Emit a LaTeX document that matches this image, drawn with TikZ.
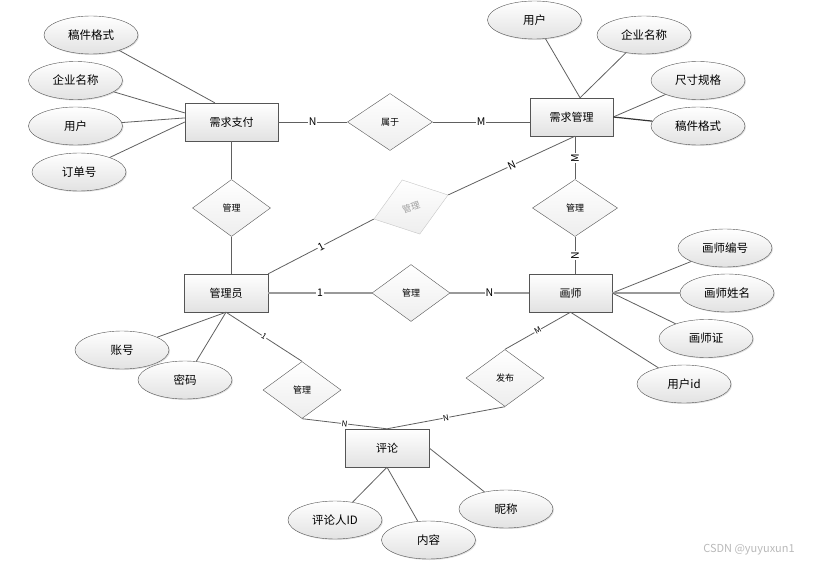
\documentclass[tikz,border=0pt]{standalone}
\usepackage{fontspec}
\setmainfont{Noto Sans CJK SC}
\usepackage{tikz}
\usetikzlibrary{positioning,shapes.geometric,shadows}
\definecolor{edge}{HTML}{555555}
\definecolor{shade}{HTML}{E2E2E2}
\definecolor{wire}{HTML}{606060}

\begin{document}
\begin{tikzpicture}[x=1pt,y=-1pt,
  ent/.style={draw=edge,top color=white,bottom color=shade,minimum width=84pt,minimum height=38pt,inner sep=0pt,font=\fontsize{11}{13}\selectfont,drop shadow={shadow xshift=1.2pt,shadow yshift=-1.2pt,fill=gray!60,opacity=0.6}},
  attr/.style={ellipse,draw=edge,top color=white,bottom color=shade,minimum width=94pt,minimum height=38pt,inner sep=0pt,font=\fontsize{11.5}{13}\selectfont,drop shadow={shadow xshift=1pt,shadow yshift=-1pt,fill=gray!50,opacity=0.5}},
  rel/.style={diamond,draw=edge,top color=white,bottom color=shade!60,minimum width=78pt,minimum height=57pt,inner sep=0pt,font=\fontsize{9}{10}\selectfont},
  lnk/.style={draw=wire,line width=0.8pt},
  lbl/.style={fill=white,inner sep=0.8pt,font=\fontsize{10.5}{11}\selectfont},
  tiny/.style={fill=white,inner sep=0.5pt,font=\fontsize{8}{9}\selectfont,sloped}]
  \useasboundingbox (0,0) rectangle (819,567);

  % entities
  \node[ent,minimum width=93pt] (pay) at (231.5,122) {需求支付};
  \node[ent,minimum width=83pt] (dem) at (571.5,117) {需求管理};
  \node[ent] (adm) at (226,293) {管理员};
  \node[ent,minimum width=83pt] (art) at (570.5,293) {画师};
  \node[ent] (cmt) at (387,448) {评论};

  % relations
  \node[rel,minimum width=85pt] (shu) at (390,122) {属于};
  \node[rel] (mg1) at (231.5,208) {管理};
  \node[rel,draw=gray!45,text=gray!75,rotate=18] (mg0) at (411,207) {管理};
  \node[rel,minimum width=85pt] (mg2) at (575,208) {管理};
  \node[rel] (mg4) at (411,293) {管理};
  \node[rel] (mg3) at (302,390) {管理};
  \node[rel] (fb) at (505,378) {发布};

  % attributes
  \node[attr] (a1) at (91,35) {稿件格式};
  \node[attr] (a2) at (75.5,80.5) {企业名称};
  \node[attr] (a3) at (75.5,126) {用户};
  \node[attr] (a4) at (79,172) {订单号};
  \node[attr] (b1) at (534.5,20) {用户};
  \node[attr] (b2) at (644,35) {企业名称};
  \node[attr] (b3) at (698,80.5) {尺寸规格};
  \node[attr] (b4) at (698,126) {稿件格式};
  \node[attr] (c1) at (725,248) {画师编号};
  \node[attr] (c2) at (727,293) {画师姓名};
  \node[attr] (c3) at (706,338.5) {画师证};
  \node[attr] (c4) at (684,384) {用户id};
  \node[attr] (d1) at (122,350) {账号};
  \node[attr] (d2) at (185,380) {密码};
  \node[attr] (e1) at (335,520) {评论人ID};
  \node[attr] (e2) at (428.5,540) {内容};
  \node[attr] (e3) at (506,509) {昵称};

  % attribute links
  \draw[lnk] (a1) -- (pay.131);
  \draw[lnk] (a2) -- (pay.169);
  \draw[lnk] (a3) -- (pay.175);
  \draw[lnk] (a4) -- (pay.west);
  \draw[lnk] (b1) -- (dem.66);
  \draw[lnk] (b2) -- (dem.66);
  \draw[lnk] (b3) -- (dem.east);
  \draw[draw=black!80,line width=1.2pt] (b4) -- (dem.east);
  \draw[lnk] (c1) -- (art.east);
  \draw[lnk,line width=1.3pt,draw=gray!80] (c2) -- (art.east);
  \draw[lnk] (c3) -- (art.east);
  \draw[lnk] (c4) -- (art.south);
  \draw[lnk] (d1) -- (adm.south);
  \draw[lnk] (d2) -- (adm.south);
  \draw[lnk] (e1) -- (cmt.south);
  \draw[lnk] (e2) -- (cmt.south);
  \draw[lnk] (e3) -- (cmt.east);

  % relation links
  \draw[lnk] (pay.east) -- node[lbl] {N} (shu.west);
  \draw[lnk] (shu.east) -- node[lbl] {M} (shu.east -| dem.west);
  \draw[lnk] (pay.south) -- (mg1.north);
  \draw[lnk] (mg1.south) -- (mg1.south |- adm.north);
  \draw[lnk] (adm.north east) -- node[lbl,sloped] {1} (mg0.west);
  \draw[lnk] (mg0.east) -- node[lbl,sloped] {N} (mg2.north |- dem.south);
  \draw[lnk] (mg2.north |- dem.south) -- node[lbl,rotate=90] {M} (mg2.north);
  \draw[lnk] (mg2.south) -- node[lbl,rotate=90] {N} (mg2.south |- art.north);
  \draw[lnk,line width=1.3pt,draw=gray!80] (adm.east) -- node[lbl] {1} (mg4.west);
  \draw[lnk,line width=1.3pt,draw=gray!80] (mg4.east) -- node[lbl] {N} (art.west);
  \draw[lnk] (art.south) -- node[tiny] {M} (fb.north);
  \draw[lnk] (fb.south) -- node[tiny] {N} (cmt.north);
  \draw[lnk] (adm.south) -- node[tiny] {1} (mg3.north);
  \draw[lnk] (mg3.south) -- node[tiny] {N} (cmt.north);

  \node[text=gray!55,font=\fontsize{11}{12}\selectfont] (wm) at (749,550) {CSDN @yuyuxun1};
\end{tikzpicture}
\end{document}
